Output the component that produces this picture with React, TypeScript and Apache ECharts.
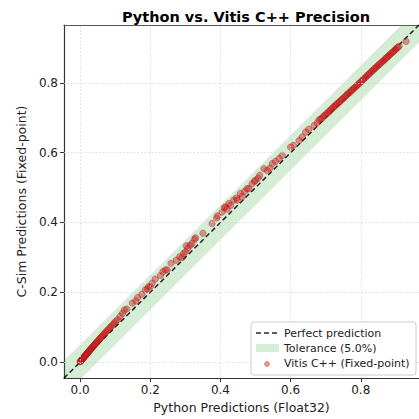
import React, { useEffect, useRef } from "react";
import * as echarts from "echarts";

const FONT = "DejaVu Sans";

const axisMin = -0.046;
const axisMax = 0.966;
const tickValues = [0, 0.2, 0.4, 0.6, 0.8];
const tolerance = 0.05;

const bandX = [-0.3, 1.3];
const bandLower = [-0.35, 1.25];
const bandUpper = [-0.25, 1.35];

const perfectX = [-0.046, 0.966];
const perfectY = [-0.046, 0.966];

// Python (Float32) predictions
const pythonPred = [
  0.000, 0.001, 0.003, 0.004, 0.006, 0.008, 0.009, 0.011, 0.013, 0.014, 0.016, 0.018, 0.019, 0.021, 0.023,
  0.025, 0.027, 0.028, 0.030, 0.032, 0.034, 0.036, 0.038, 0.040, 0.042, 0.044, 0.047, 0.049, 0.051, 0.054,
  0.056, 0.059, 0.062, 0.065, 0.068, 0.071, 0.074, 0.078, 0.081, 0.085, 0.089, 0.093, 0.097, 0.102, 0.107,
  0.114, 0.121, 0.126, 0.133, 0.149, 0.159, 0.164, 0.176, 0.186, 0.192, 0.195, 0.200, 0.205, 0.214, 0.229,
  0.236, 0.243, 0.248, 0.259, 0.274, 0.284, 0.290, 0.295, 0.300, 0.303, 0.307, 0.314, 0.319, 0.326, 0.329,
  0.350, 0.376, 0.389, 0.392, 0.405, 0.411, 0.414, 0.419, 0.424, 0.429, 0.438, 0.446, 0.448, 0.457, 0.462,
  0.469, 0.476, 0.481, 0.490, 0.497, 0.500, 0.507, 0.512, 0.524, 0.533, 0.541, 0.548, 0.557, 0.567, 0.576,
  0.600, 0.608, 0.624, 0.633, 0.643, 0.652, 0.667, 0.676,
  0.681, 0.686, 0.690, 0.694, 0.698, 0.702, 0.706, 0.710, 0.713, 0.717, 0.720, 0.724, 0.727, 0.731, 0.734,
  0.738, 0.741, 0.745, 0.748, 0.752, 0.755, 0.759, 0.762, 0.766, 0.769, 0.773, 0.776, 0.780, 0.783, 0.787,
  0.790, 0.794, 0.797, 0.801, 0.804, 0.808, 0.811, 0.815, 0.818, 0.822, 0.825, 0.829, 0.832, 0.836, 0.839,
  0.843, 0.846, 0.850, 0.853, 0.857, 0.860, 0.864, 0.867, 0.871, 0.874, 0.878, 0.881, 0.885, 0.888, 0.892,
  0.895, 0.899, 0.902, 0.906, 0.909, 0.929,
];

// Vitis C++ (fixed-point) C-Sim predictions
const cSimPred = [
  0.001, 0.002, 0.004, 0.006, 0.008, 0.010, 0.012, 0.014, 0.016, 0.018, 0.020, 0.022, 0.024, 0.026, 0.028,
  0.031, 0.033, 0.034, 0.037, 0.039, 0.041, 0.044, 0.046, 0.048, 0.051, 0.053, 0.056, 0.059, 0.061, 0.064,
  0.067, 0.070, 0.073, 0.077, 0.080, 0.083, 0.087, 0.091, 0.094, 0.099, 0.103, 0.107, 0.112, 0.117, 0.122,
  0.131, 0.140, 0.149, 0.152, 0.169, 0.175, 0.185, 0.194, 0.207, 0.209, 0.216, 0.216, 0.226, 0.238, 0.248,
  0.259, 0.264, 0.264, 0.283, 0.292, 0.302, 0.299, 0.311, 0.316, 0.333, 0.326, 0.335, 0.340, 0.352, 0.356,
  0.369, 0.397, 0.413, 0.419, 0.430, 0.442, 0.445, 0.438, 0.454, 0.449, 0.464, 0.470, 0.464, 0.483, 0.474,
  0.489, 0.497, 0.497, 0.511, 0.518, 0.521, 0.527, 0.535, 0.554, 0.549, 0.556, 0.569, 0.575, 0.583, 0.592,
  0.616, 0.621, 0.635, 0.645, 0.659, 0.667, 0.678, 0.686,
  0.694, 0.697, 0.699, 0.705, 0.707, 0.712, 0.714, 0.719, 0.721, 0.726, 0.728, 0.733, 0.734, 0.739, 0.741,
  0.745, 0.747, 0.752, 0.754, 0.757, 0.761, 0.764, 0.768, 0.771, 0.773, 0.778, 0.780, 0.784, 0.787, 0.790,
  0.794, 0.797, 0.800, 0.804, 0.807, 0.811, 0.814, 0.817, 0.821, 0.824, 0.827, 0.831, 0.834, 0.837, 0.841,
  0.844, 0.847, 0.851, 0.853, 0.857, 0.860, 0.863, 0.866, 0.870, 0.873, 0.876, 0.879, 0.883, 0.886, 0.889,
  0.892, 0.896, 0.899, 0.902, 0.905, 0.919,
];

const legendLabels = ["Perfect prediction", `Tolerance (${(tolerance * 100).toFixed(1)}%)`, "Vitis C++ (Fixed-point)"];

export default function App() {
  const ref = useRef<HTMLDivElement>(null);

  useEffect(() => {
    if (!ref.current) return;
    const chart = echarts.init(ref.current, null, { renderer: "svg" });

    const scatterData = pythonPred.map((x, i) => [x, cSimPred[i]]);
    const lineData = perfectX.map((x, i) => [x, perfectY[i]]);

    const gridMarks = [
      ...tickValues.map((v) => ({ xAxis: v })),
      ...tickValues.map((v) => ({ yAxis: v })),
    ];

    const lx = 251;
    const ly = 322;
    const textStyle = (t: string) => ({
      text: t,
      fontFamily: FONT,
      fontSize: 11,
      fill: "#222",
      verticalAlign: "middle",
      align: "left",
    });

    chart.setOption({
      animation: false,
      backgroundColor: "#ffffff",
      title: {
        text: "Python vs. Vitis C++ Precision",
        left: 241,
        top: 4,
        textAlign: "center",
        textStyle: { fontFamily: FONT, fontSize: 14.5, fontWeight: "bold", color: "#000" },
      },
      grid: { left: 64, right: 0, top: 25, bottom: 39, containLabel: false },
      xAxis: [
        {
          type: "value",
          min: axisMin,
          max: axisMax,
          position: "bottom",
          name: "Python Predictions (Float32)",
          nameLocation: "middle",
          nameGap: 22,
          nameTextStyle: { fontFamily: FONT, fontSize: 12.5, color: "#222" },
          axisLine: { show: true, onZero: false, lineStyle: { color: "#333", width: 1.2 } },
          axisTick: { show: true, length: 4, customValues: tickValues, lineStyle: { color: "#333" } },
          axisLabel: {
            customValues: tickValues,
            formatter: (v: number) => v.toFixed(1),
            fontFamily: FONT,
            fontSize: 12,
            color: "#222",
            margin: 6,
          },
          splitLine: { show: false },
        },
        {
          type: "value",
          min: axisMin,
          max: axisMax,
          position: "top",
          axisLine: { show: true, onZero: false, lineStyle: { color: "#555", width: 1.2 } },
          axisTick: { show: false },
          axisLabel: { show: false },
          splitLine: { show: false },
        },
      ],
      yAxis: {
        type: "value",
        min: axisMin,
        max: axisMax,
        name: "C-Sim Predictions (Fixed-point)",
        nameLocation: "middle",
        nameGap: 26,
        nameTextStyle: { fontFamily: FONT, fontSize: 12.5, color: "#222" },
        axisLine: { show: true, onZero: false, lineStyle: { color: "#333", width: 1.2 } },
        axisTick: { show: true, length: 4, customValues: tickValues, lineStyle: { color: "#333" } },
        axisLabel: {
          customValues: tickValues,
          formatter: (v: number) => v.toFixed(1),
          fontFamily: FONT,
          fontSize: 12,
          color: "#222",
          margin: 6,
        },
        splitLine: { show: false },
      },
      series: [
        {
          type: "line",
          data: [],
          silent: true,
          z: 0,
          markLine: {
            silent: true,
            symbol: "none",
            label: { show: false },
            lineStyle: { color: "#d4d4d4", type: [1.5, 2], width: 0.8 },
            data: gridMarks,
          },
        },
        {
          type: "custom",
          name: "Tolerance",
          clip: true,
          silent: true,
          z: 1,
          data: [[0, 0]],
          renderItem: (params: any, api: any) => {
            const pts: number[][] = [];
            for (let i = 0; i < bandX.length; i++) pts.push(api.coord([bandX[i], bandLower[i]]));
            for (let i = bandX.length - 1; i >= 0; i--) pts.push(api.coord([bandX[i], bandUpper[i]]));
            return {
              type: "polygon",
              shape: { points: pts },
              style: { fill: "rgba(44,160,44,0.2)", stroke: "none" },
            };
          },
        },
        {
          type: "line",
          name: "Perfect prediction",
          data: lineData,
          symbol: "none",
          z: 3,
          lineStyle: { color: "rgba(0,0,0,0.85)", width: 1.5, type: [5, 3] },
        },
        {
          type: "scatter",
          name: "Vitis C++ (Fixed-point)",
          data: scatterData,
          symbolSize: 6.5,
          z: 4,
          itemStyle: {
            color: "rgba(214,39,40,0.6)",
            borderColor: "rgba(139,0,0,0.6)",
            borderWidth: 0.6,
          },
        },
      ],
      graphic: [
        {
          type: "rect",
          z: 100,
          shape: { x: lx, y: ly, width: 165, height: 53, r: 3 },
          style: { fill: "rgba(255,255,255,0.85)", stroke: "#cccccc", lineWidth: 1 },
        },
        {
          type: "line",
          z: 101,
          shape: { x1: lx + 5, y1: ly + 11, x2: lx + 28, y2: ly + 11 },
          style: { stroke: "rgba(0,0,0,0.85)", lineWidth: 1.5, lineDash: [5, 3] },
        },
        {
          type: "rect",
          z: 101,
          shape: { x: lx + 5, y: ly + 22, width: 23, height: 8 },
          style: { fill: "rgba(44,160,44,0.2)", stroke: "none" },
        },
        {
          type: "circle",
          z: 101,
          shape: { cx: lx + 16, cy: ly + 42, r: 2.6 },
          style: { fill: "rgba(214,39,40,0.5)", stroke: "rgba(139,0,0,0.4)", lineWidth: 0.5 },
        },
        { type: "text", z: 101, x: lx + 33, y: ly + 11, style: textStyle(legendLabels[0]) },
        { type: "text", z: 101, x: lx + 33, y: ly + 26, style: textStyle(legendLabels[1]) },
        { type: "text", z: 101, x: lx + 33, y: ly + 41.5, style: textStyle(legendLabels[2]) },
      ],
    });

    return () => chart.dispose();
  }, []);

  return <div ref={ref} style={{ width: 419, height: 419, position: "absolute", left: 0, top: 0 }} />;
}
